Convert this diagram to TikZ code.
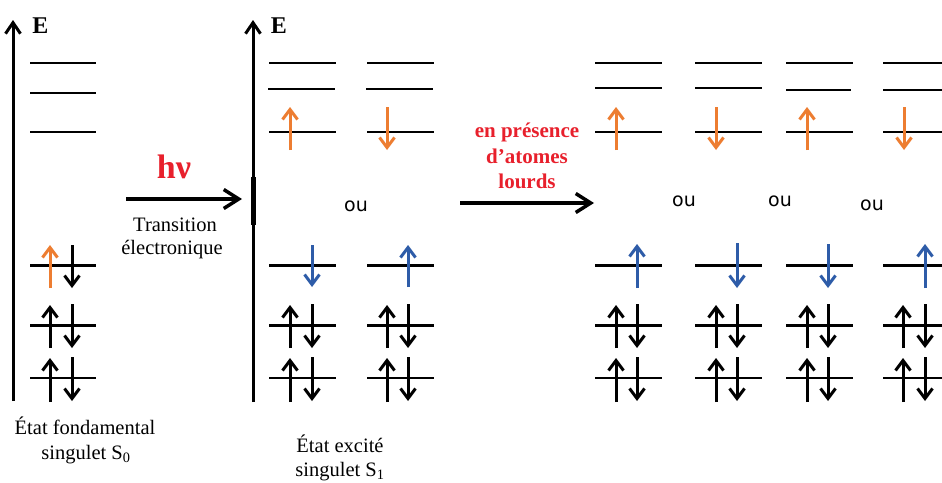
\documentclass[tikz,border=0pt]{standalone}
\usepackage{fontspec}
\setmainfont{Liberation Serif}
\newfontfamily\oufont{DejaVu Sans}
\usetikzlibrary{arrows.meta}
\definecolor{eorange}{RGB}{237,125,49}
\definecolor{eblue}{RGB}{46,92,168}
\definecolor{ered}{RGB}{232,32,44}
\begin{document}
\begin{tikzpicture}[x=1pt,y=-1pt,
  lvl/.style={line width=2.5pt},
  spin/.style={line width=3pt,-{Straight Barb[length=10pt,width=15pt]}},
  eaxis/.style={line width=3pt,-{Straight Barb[length=11pt,width=15pt]}},
  bigarrow/.style={line width=3.5pt,-{Straight Barb[length=15pt,width=19pt]}},
  txt/.style={font=\fontsize{20.5}{23}\selectfont, inner sep=0pt, anchor=base},
  redtxt/.style={font=\fontsize{21}{24}\selectfont\bfseries, text=ered, inner sep=0pt, anchor=base},
  elbl/.style={font=\fontsize{24}{26}\selectfont\bfseries, inner sep=0pt, anchor=base},
  ou/.style={font=\fontsize{19}{22}\oufont, inner sep=0pt, anchor=base}]
\useasboundingbox (0,0) rectangle (942,482);
\fill[white] (0,0) rectangle (942,482);

% ---------- axes ----------
\coordinate (ax1b) at (13,401); \coordinate (ax1t) at (13,20);
\coordinate (ax2b) at (253,402); \coordinate (ax2t) at (253,20);
\draw[eaxis] (ax1b) -- (ax1t);
\draw[eaxis] (ax2b) -- (ax2t);
\draw[line width=5pt] (253,177) -- (253,225);
\node[elbl] (E1) at (40.5,33) {E};
\node[elbl] (E2) at (279,33) {E};

% ---------- panel 1 : ground state ----------
\foreach \y in {63,93,132,265.7,325.7,378} \draw[lvl] (30,\y) -- (96,\y);
\draw[spin,eorange] (50,288) -- (50,245);
\draw[spin] (72,245) -- (72,288);
\draw[spin] (50,348) -- (50,305);
\draw[spin] (72,304) -- (72,348);
\draw[spin] (50,402) -- (50,358);
\draw[spin] (72,357) -- (72,401);
\node[txt] (s0a) at (85,434) {État fondamental};
\node[txt] (s0b) at (86,459) {singulet S\textsubscript{0}};

% ---------- transition arrow ----------
\coordinate (t1a) at (126,199); \coordinate (t1b) at (242,199);
\draw[bigarrow] (t1a) -- (t1b);
\node[font=\fontsize{34}{36}\selectfont\bfseries, text=ered, inner sep=0pt, anchor=base] (hnu) at (174,178) {hν};
\node[txt] (tr1) at (175,231) {Transition};
\node[txt] (tr2) at (172,254) {électronique};

% ---------- panel 2 : excited singlet ----------
\foreach \x in {269,367} {
  \draw[lvl] (\x,63) -- (\x+67,63);
  \draw[lvl] (\x-1,89) -- (\x+66,89);
  \draw[lvl] (\x,132) -- (\x+67,132);
  \draw[lvl] (\x,265.7) -- (\x+67,265.7);
  \draw[lvl] (\x,325.7) -- (\x+67,325.7);
  \draw[lvl] (\x,378) -- (\x+67,378);
}
\draw[spin,eorange] (290,150) -- (290,107);
\draw[spin,eorange] (387,107) -- (387,150);
\draw[spin,eblue] (312,245) -- (312,287);
\draw[spin,eblue] (408,287) -- (408,245);
\foreach \u/\d in {290/312,387/408} {
  \draw[spin] (\u,348) -- (\u,305);
  \draw[spin] (\d,304) -- (\d,348);
  \draw[spin] (\u,402) -- (\u,358);
  \draw[spin] (\d,357) -- (\d,401);
}
\node[ou] (ou1) at (356,211) {ou};
\node[txt] (s1a) at (340,452) {État excité};
\node[txt] (s1b) at (340,476) {singulet S\textsubscript{1}};

% ---------- heavy atom arrow ----------
\coordinate (t2a) at (460,203); \coordinate (t2b) at (594,203);
\draw[bigarrow] (t2a) -- (t2b);
\node[redtxt] (r1) at (527,137) {en présence};
\node[redtxt] (r2) at (527,163) {d’atomes};
\node[redtxt] (r3) at (527,188) {lourds};

% ---------- panel 3 : triplet states ----------
\foreach \x/\w in {595/67,695/67,786/67,883/70} {
  \draw[lvl] (\x,63) -- (\x+\w,63);
  \draw[lvl] (\x,132) -- (\x+\w,132);
  \draw[lvl] (\x,265.7) -- (\x+\w,265.7);
  \draw[lvl] (\x,325.7) -- (\x+\w,325.7);
  \draw[lvl] (\x,378) -- (\x+\w,378);
}
\draw[lvl] (595,88) -- (662,88);
\draw[lvl] (695,88) -- (762,88);
\draw[lvl] (786,90) -- (851,90);
\draw[lvl] (883,90) -- (950,90);
% orange (upper) electrons
\draw[spin,eorange] (616,150) -- (616,107);
\draw[spin,eorange] (716,107) -- (716,150);
\draw[spin,eorange] (807,150) -- (807,107);
\draw[spin,eorange] (904,107) -- (904,150);
% blue electrons
\draw[spin,eblue] (637,288) -- (637,244);
\draw[spin,eblue] (737,243) -- (737,288);
\draw[spin,eblue] (828,244) -- (828,288);
\draw[spin,eblue] (925,288) -- (925,244);
% paired electrons
\foreach \u/\d in {616/637,716/737,807/828,903/925} {
  \draw[spin] (\u,348) -- (\u,305);
  \draw[spin] (\d,304) -- (\d,348);
  \draw[spin] (\u,402) -- (\u,358);
  \draw[spin] (\d,357) -- (\d,401);
}
\node[ou] (ou2) at (684,206) {ou};
\node[ou] (ou3) at (780,206) {ou};
\node[ou] (ou4) at (872,210) {ou};
\end{tikzpicture}
\end{document}
